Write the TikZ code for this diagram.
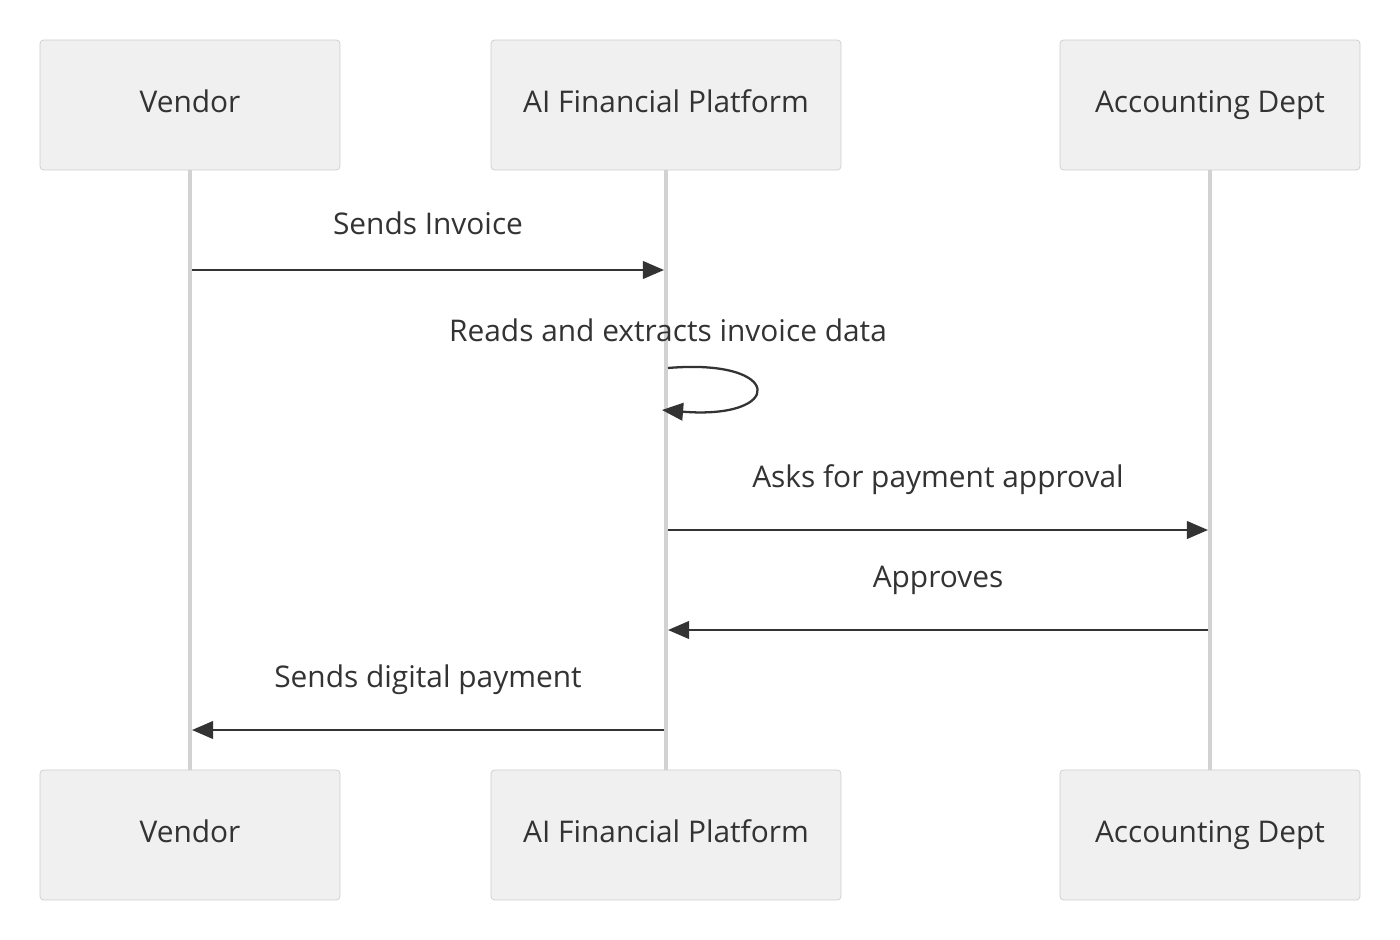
\documentclass[tikz,border=0pt]{standalone}
\usepackage{fontspec}
\setmainfont{Open Sans}
\usetikzlibrary{positioning,arrows.meta}

\begin{document}
\begin{tikzpicture}[
    x=0.02cm, y=-0.02cm,
    actor/.style={rectangle, draw=gray!40, fill=gray!12, rounded corners=2pt, minimum width=6cm, minimum height=2.6cm, text height=12pt, text depth=4pt, font=\fontsize{17}{20}\selectfont, text=black!80},
    life/.style={draw=gray!35, line width=2pt},
    msg/.style={draw=black!80, line width=1.3pt, -{Triangle[length=12pt,width=10pt]}},
    lbl/.style={font=\fontsize{17}{20}\selectfont, text=black!80}
]
\useasboundingbox (0,0) rectangle (1400,940);

% Participants
\node[actor] (vendor) at (190,105) {Vendor};
\node[actor, minimum width=7cm] (ai) at (666,105) {AI Financial Platform};
\node[actor] (acc) at (1210,105) {Accounting Dept};
\node[actor] (vendorB) at (190,835) {Vendor};
\node[actor, minimum width=7cm] (aiB) at (666,835) {AI Financial Platform};
\node[actor] (accB) at (1210,835) {Accounting Dept};

% Lifelines
\draw[life] (vendor) -- (vendorB);
\draw[life] (ai) -- (aiB);
\draw[life] (acc) -- (accB);

% Messages
\coordinate (m1a) at (192,270);
\coordinate (m1b) at (664,270);
\draw[msg] (m1a) -- node[lbl, above=16pt] {Sends Invoice} (m1b);

\node[lbl] (selflbl) at (668,330) {Reads and extracts invoice data};
\coordinate (s1) at (668,368);
\coordinate (s2) at (662,410);
\draw[msg] (s1) .. controls (785,358) and (785,420) .. (s2);

\coordinate (m3a) at (668,530);
\coordinate (m3b) at (1208,530);
\draw[msg] (m3a) -- node[lbl, above=16pt] {Asks for payment approval} (m3b);

\coordinate (m4a) at (1208,630);
\coordinate (m4b) at (668,630);
\draw[msg] (m4a) -- node[lbl, above=16pt] {Approves} (m4b);

\coordinate (m5a) at (664,730);
\coordinate (m5b) at (192,730);
\draw[msg] (m5a) -- node[lbl, above=16pt] {Sends digital payment} (m5b);

\end{tikzpicture}
\end{document}
